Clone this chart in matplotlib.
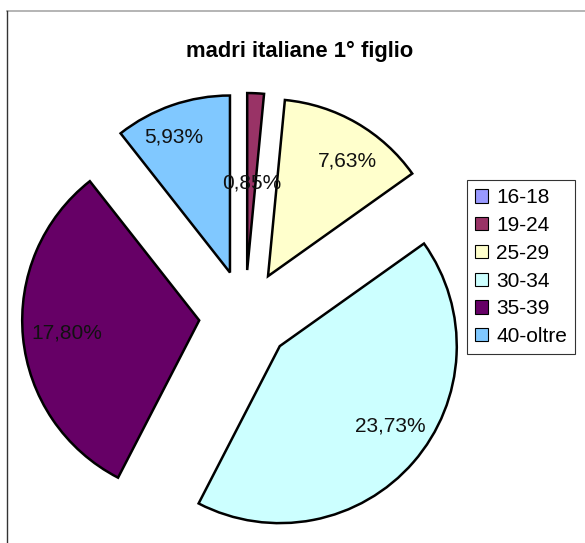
import numpy as np
import matplotlib
matplotlib.use("Agg")
import matplotlib.pyplot as plt
from matplotlib.patches import Patch

plt.rcParams['font.family'] = ['Liberation Sans', 'DejaVu Sans']

# dati
classi = ['16-18', '19-24', '25-29', '30-34', '35-39', '40-oltre']
percentuali = [0.0, 0.85, 7.63, 23.73, 17.80, 5.93]
colori = ['#9999FF', '#993366', '#FFFFCC', '#CCFFFF', '#660066', '#80C8FF']
titolo = 'madri italiane 1° figlio'

fig = plt.figure(figsize=(5.85, 5.43), dpi=100)
ax = fig.add_axes([0, 0, 1, 1])

# pie in pixel coords (y up)
cx, cy, r = 245, 543 - 316, 177
expl = 46
wedges, _ = ax.pie(percentuali, explode=[expl] * len(classi), radius=r, center=(cx, cy),
                   startangle=90, counterclock=False, colors=colori,
                   wedgeprops=dict(edgecolor='black', linewidth=1.8))
for w, v in zip(wedges, percentuali):
    if v == 0:
        w.set_visible(False)

# etichette percentuali (posizione tipo "best fit" di Excel)
lab_r = [0, 0.49, 0.79, 0.77, 0.75, 0.83]
lab_shift = [0, 0, 4.5, -5, 0, -3.5]
tot = sum(percentuali)
start = 0.0
for i, v in enumerate(percentuali):
    ang = v / tot * 360
    if v > 0:
        mid = np.radians(start + ang / 2)
        ax_ = cx + expl * np.sin(mid)
        ay_ = cy + expl * np.cos(mid)
        a2 = np.radians(start + ang / 2 + lab_shift[i])
        tx = ax_ + lab_r[i] * r * np.sin(a2)
        ty = ay_ + lab_r[i] * r * np.cos(a2)
        ax.text(tx, ty, f'{v:.2f}%'.replace('.', ','), ha='center', va='center',
                fontsize=15, color='#111111')
    start += ang

ax.set_xlim(0, 585)
ax.set_ylim(0, 543)
ax.axis('off')

# cornice
ax.plot([7, 585], [532, 532], color='#A8A8A8', lw=1.2)
ax.plot([7, 7], [0, 532], color='#333333', lw=1.0)

ax.text(300, 543 - 57, titolo, ha='center', va='baseline', fontsize=15.8, fontweight='bold')

handles = [Patch(facecolor=c, edgecolor='black', linewidth=0.8) for c in colori]
leg = ax.legend(handles, classi, loc='upper left', bbox_to_anchor=(467, 543 - 180),
                bbox_transform=ax.transData, fontsize=15, frameon=True, fancybox=False,
                edgecolor='black', handlelength=0.6, handleheight=0.6, handletextpad=0.4,
                labelspacing=0.42, borderpad=0.4, borderaxespad=0)
leg.get_frame().set_linewidth(0.8)

fig.savefig('out.png', dpi=100)
